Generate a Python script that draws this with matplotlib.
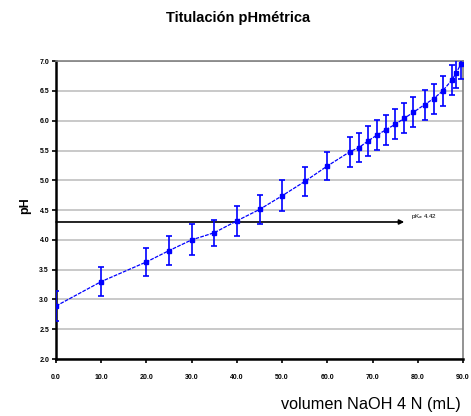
import numpy as np
import matplotlib
matplotlib.use("Agg")
import matplotlib.pyplot as plt

plt.rcParams['font.family'] = ['Liberation Sans', 'DejaVu Sans']

# volumen de NaOH añadido (mL) y pH medido
volumen = [0, 10, 20, 25, 30, 35, 40, 45, 50, 55, 60, 65, 67, 69, 71, 73, 75,
           77, 79, 81.5, 83.5, 85.5, 87.5, 88.5, 89.5]
ph = [2.89, 3.30, 3.63, 3.82, 4.00, 4.12, 4.32, 4.51, 4.74, 4.98, 5.24, 5.48,
      5.55, 5.66, 5.76, 5.85, 5.94, 6.04, 6.14, 6.27, 6.37, 6.50, 6.68, 6.80, 6.95]
error_ph = [0.26, 0.25, 0.24, 0.25, 0.26, 0.22, 0.25, 0.25, 0.26, 0.25, 0.24,
            0.25, 0.25, 0.25, 0.25, 0.25, 0.25, 0.25, 0.25, 0.25, 0.25, 0.25,
            0.25, 0.25, 0.25]

pka_linea = 4.30
pka_texto = "pK$_a$ 4.42"
x_ticks = [0, 10, 20, 30, 40, 50, 60, 70, 80, 90]
y_ticks = [2.0, 2.5, 3.0, 3.5, 4.0, 4.5, 5.0, 5.5, 6.0, 6.5, 7.0]

fig = plt.figure(figsize=(4.71, 4.16), dpi=100)
ax = fig.add_axes([0.119, 0.137, 0.864, 0.716])

azul = "#0000ff"
ax.errorbar(volumen, ph, yerr=error_ph, color=azul, lw=0.9, ls=(0, (3, 1)),
            marker="s", ms=2.2, elinewidth=1.2, capsize=2, capthick=1.2,
            zorder=4)

# línea del pKa con flecha
ax.annotate("", xy=(77, pka_linea), xytext=(0, pka_linea),
            arrowprops=dict(arrowstyle="-|>", color="black", lw=1.2,
                            mutation_scale=7, shrinkA=0, shrinkB=0), zorder=3)
ax.text(78.6, 4.40, pka_texto, fontsize=4.5, color="black", va="center")

ax.set_xlim(0, 90)
ax.set_ylim(2.0, 7.0)
ax.set_xticks(x_ticks)
ax.set_xticklabels([f"{v:.1f}" for v in x_ticks])
ax.set_yticks(y_ticks)
ax.set_yticklabels([f"{v:.1f}" for v in y_ticks])
ax.tick_params(axis="both", labelsize=5, length=3, width=1.2, direction="out",
               colors="black", pad=8)
ax.tick_params(axis="y", pad=2)
for lbl in ax.get_xticklabels() + ax.get_yticklabels():
    lbl.set_fontweight("bold")

ax.grid(axis="y", color="#c0c0c0", lw=1.2)
ax.set_axisbelow(True)
for lado in ["left", "bottom"]:
    ax.spines[lado].set_color("black")
    ax.spines[lado].set_linewidth(1.8)
for lado in ["top", "right"]:
    ax.spines[lado].set_color("#808080")
    ax.spines[lado].set_linewidth(1.2)

fig.text(0.505, 0.957, "Titulación pHmétrica", ha="center", va="center",
         fontsize=10.5, fontweight="bold")
fig.text(0.978, 0.027, "volumen NaOH 4 N (mL)", ha="right", va="center",
         fontsize=11.7)
fig.text(0.053, 0.505, "pH", ha="center", va="center", rotation=90,
         fontsize=9, fontweight="bold")

fig.savefig("out.png", dpi=100)
